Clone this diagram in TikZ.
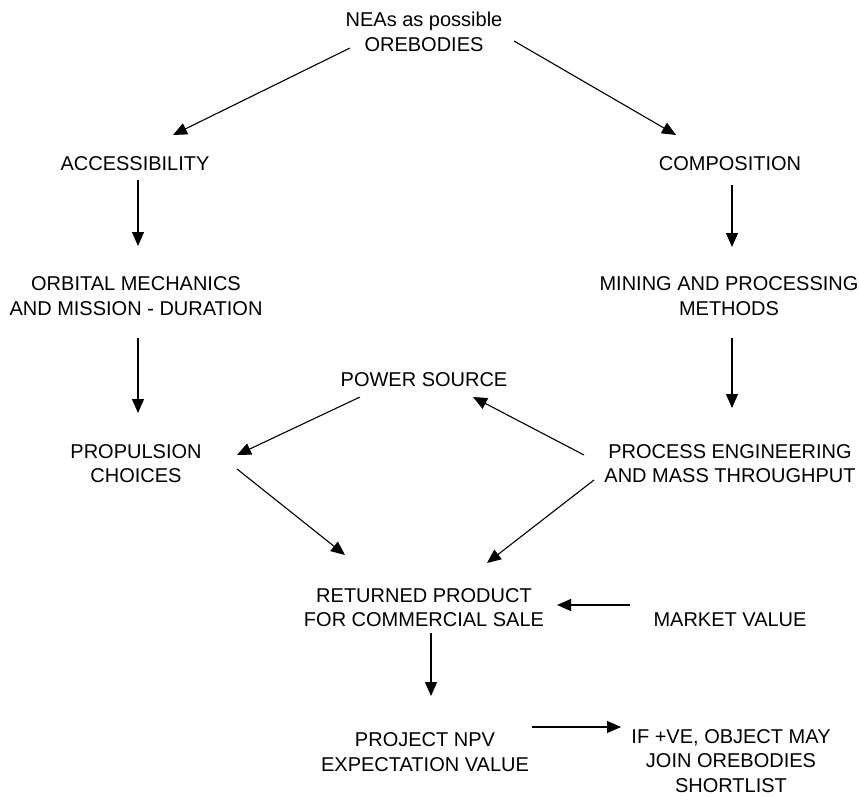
\documentclass[tikz,border=0pt]{standalone}
\usepackage{fontspec}
\setmainfont{Liberation Sans}
\usetikzlibrary{arrows.meta}
\tikzset{
  >={Triangle[length=14pt,width=12pt]},
  every picture/.append style={line width=1.1pt},
}
\tikzset{
  txt/.style={align=center, inner sep=0pt, font=\fontsize{20}{24.5}\selectfont},
  arrow/.style={->, draw=black}
}
\begin{document}
\begin{tikzpicture}[x=1pt, y=-1pt]
\useasboundingbox (0,0) rectangle (859,797);

% nodes, three columns
\node[txt] (nea) at (424,32) {NEAs as possible\\OREBODIES};
\node[txt] (access) at (135,164) {ACCESSIBILITY};
\node[txt] (compo) at (730,164) {COMPOSITION};
\node[txt] (orbital) at (136,296) {ORBITAL MECHANICS\\AND MISSION - DURATION};
\node[txt] (mining) at (729,296) {MINING AND PROCESSING\\METHODS};
\node[txt] (power) at (424,379.5) {POWER SOURCE};
\node[txt] (propul) at (136,463.5) {PROPULSION\\CHOICES};
\node[txt] (process) at (730,463.5) {PROCESS ENGINEERING\\AND MASS THROUGHPUT};
\node[txt] (returned) at (424,607.5) {RETURNED PRODUCT\\FOR COMMERCIAL SALE};
\node[txt] (market) at (730,619.5) {MARKET VALUE};
\node[txt] (npv) at (425,752) {PROJECT NPV\\EXPECTATION VALUE};
\node[txt] (ifve) at (731,761) {IF +VE, OBJECT MAY\\JOIN OREBODIES\\SHORTLIST};

% arrows
\draw[arrow] ([shift={(-74pt,-16pt)}]nea.center) -- ([shift={(38pt,29pt)}]access.center);
\draw[arrow] ([shift={(90pt,-9pt)}]nea.center) -- ([shift={(-54pt,29pt)}]compo.center);
\draw[arrow] ([shift={(3pt,-16pt)}]access.center) -- ([shift={(2pt,50pt)}]orbital.center);
\draw[arrow] ([shift={(2pt,-21pt)}]compo.center) -- ([shift={(3pt,49pt)}]mining.center);
\draw[arrow] ([shift={(2pt,-42pt)}]orbital.center) -- ([shift={(2pt,50.5pt)}]propul.center);
\draw[arrow] ([shift={(3pt,-42pt)}]mining.center) -- ([shift={(2pt,55.5pt)}]process.center);
\draw[arrow] ([shift={(-64pt,-17.5pt)}]power.center) -- ([shift={(101pt,8.5pt)}]propul.center);
\draw[arrow] ([shift={(-146pt,8.5pt)}]process.center) -- ([shift={(49pt,-17.5pt)}]power.center);
\draw[arrow] ([shift={(101pt,-5.5pt)}]propul.center) -- ([shift={(-79pt,52.5pt)}]returned.center);
\draw[arrow] ([shift={(-136pt,-16.5pt)}]process.center) -- ([shift={(63pt,44.5pt)}]returned.center);
\draw[arrow] ([shift={(-100pt,14.5pt)}]market.center) -- ([shift={(133pt,2.5pt)}]returned.center);
\draw[arrow] ([shift={(7pt,-25.5pt)}]returned.center) -- ([shift={(6pt,56pt)}]npv.center);
\draw[arrow] ([shift={(107pt,25pt)}]npv.center) -- ([shift={(-110pt,34pt)}]ifve.center);

\end{tikzpicture}
\end{document}
